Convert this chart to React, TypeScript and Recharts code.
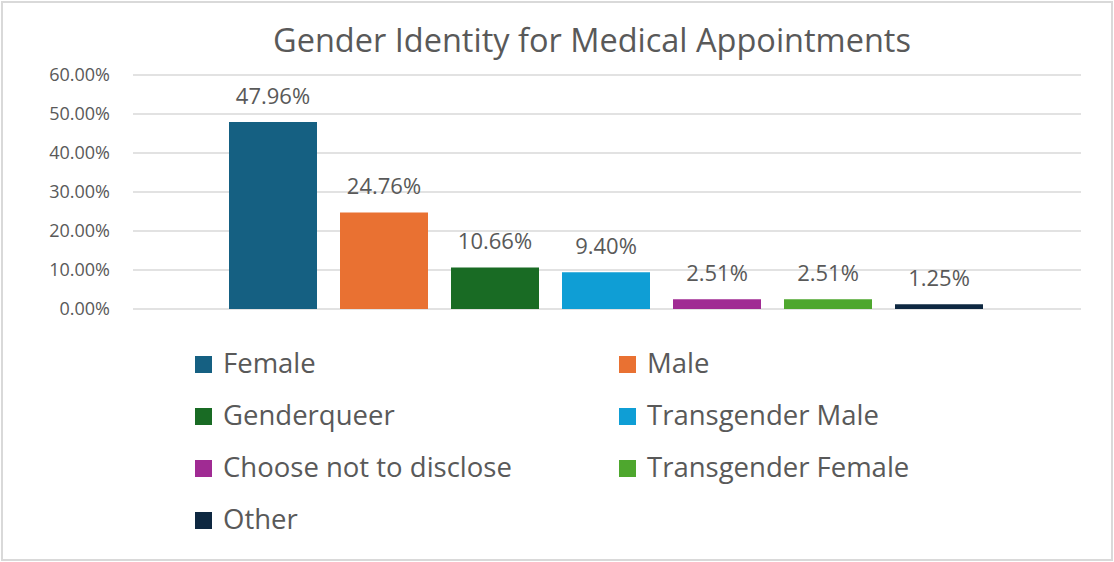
import { Bar, BarChart, CartesianGrid, LabelList, XAxis, YAxis } from 'recharts'

const CATEGORIES = [
  'Female',
  'Male',
  'Genderqueer',
  'Transgender Male',
  'Choose not to disclose',
  'Transgender Female',
  'Other',
]
const VALUES = [47.96, 24.76, 10.66, 9.4, 2.51, 2.51, 1.25]
const COLORS = ['#156082', '#E97132', '#196B24', '#0F9ED5', '#A02B93', '#4EA72E', '#0E2841']
const Y_TICKS = [0, 10, 20, 30, 40, 50, 60]
const TITLE = 'Gender Identity for Medical Appointments'

const FONT = '"Open Sans", sans-serif'
const TEXT = '#595959'
const W = 1114
const H = 562

const pct = (v: number) => `${Number(v).toFixed(2)}%`

// one category row, one series per gender identity (like the Excel source)
const data = [
  CATEGORIES.reduce<Record<string, number | string>>(
    (row, c, i) => {
      row[c] = VALUES[i]
      return row
    },
    { name: 'Gender' },
  ),
]

function Leyenda() {
  return (
    <svg width={W} height={H} style={{ position: 'absolute', left: 0, top: 0, pointerEvents: 'none' }}>
      <text x={592} y={52} textAnchor="middle" fontFamily={FONT} fontSize={32.5} fill={TEXT}>
        {TITLE}
      </text>
      {CATEGORIES.map((c, i) => {
        const col = i % 2
        const fila = Math.floor(i / 2)
        const x = col === 0 ? 195 : 619
        const base = 373 + fila * 52
        return (
          <g key={c}>
            <rect x={x} y={base - 17} width={17} height={17} fill={COLORS[i]} />
            <text x={x + 28} y={base} fontFamily={FONT} fontSize={27.5} fill={TEXT}>
              {c}
            </text>
          </g>
        )
      })}
    </svg>
  )
}

export default function App() {
  return (
    <div style={{ position: 'absolute', left: 0, top: 0, width: W, height: H, background: '#fff' }}>
      <div
        style={{
          position: 'absolute',
          left: 1,
          top: 1,
          width: W - 2,
          height: H - 2,
          border: '2px solid #D9D9D9',
          boxSizing: 'border-box',
        }}
      />
      <BarChart
        width={W}
        height={H}
        data={data}
        margin={{ top: 75, right: 33, left: 33, bottom: 253 }}
        barCategoryGap={96}
        barGap={23}
      >
        <CartesianGrid vertical={false} stroke="#D9D9D9" strokeWidth={1.5} />
        <XAxis dataKey="name" hide />
        <YAxis
          domain={[0, 60]}
          ticks={Y_TICKS}
          width={100}
          axisLine={false}
          tickLine={false}
          tickMargin={17}
          tickFormatter={pct}
          tick={{ fontSize: 18, fill: TEXT, fontFamily: FONT }}
        />
        {CATEGORIES.map((c, i) => (
          <Bar key={c} dataKey={c} fill={COLORS[i]} isAnimationActive={false}>
            <LabelList
              dataKey={c}
              position="top"
              offset={18}
              formatter={(v: any) => pct(v)}
              style={{ fontSize: 22, fill: TEXT, fontFamily: FONT }}
            />
          </Bar>
        ))}
      </BarChart>
      <Leyenda />
    </div>
  )
}
